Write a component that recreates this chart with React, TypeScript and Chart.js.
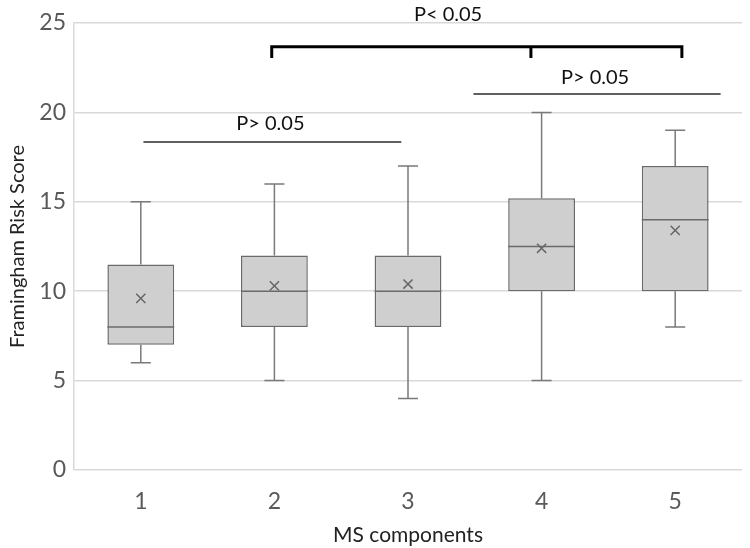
import React, { useEffect, useRef } from "react";
import { Chart, registerables } from "chart.js";

Chart.register(...registerables);

const categories = ["1", "2", "3", "4", "5"];
const minValues = [6, 5, 4, 5, 8];
const q1Values = [7, 8, 8, 10, 10];
const medianValues = [8, 10, 10, 12.5, 14];
const q3Values = [11.5, 12, 12, 15.2, 17];
const maxValues = [15, 16, 17, 20, 19];
const meanValues = [9.6, 10.3, 10.4, 12.4, 13.4];
const yTicks = [0, 5, 10, 15, 20, 25];

// significance annotations in data coordinates (category index, value)
const sigLines = [
  { label: "P> 0.05", x1: 0.02, x2: 1.95, y: 18.35, textX: 0.97, textY: 19.35, bracket: false, mid: null as number | null },
  { label: "P> 0.05", x1: 2.49, x2: 4.34, y: 21.03, textX: 3.4, textY: 21.95, bracket: false, mid: null as number | null },
  { label: "P< 0.05", x1: 0.98, x2: 4.05, y: 23.67, textX: 2.3, textY: 25.5, bracket: true, mid: 2.92 as number | null },
];

const FONT = "Lato, 'Open Sans', sans-serif";

const boxPlugin = {
  id: "boxExtras",
  beforeDatasetsDraw(chart: any) {
    const { ctx, scales } = chart;
    const meta = chart.getDatasetMeta(0);
    const y = scales.y;
    ctx.save();
    ctx.strokeStyle = "#7a7a7a";
    ctx.lineWidth = 1.5;
    meta.data.forEach((bar: any, i: number) => {
      const cx = bar.x;
      const cap = bar.width * 0.3;
      const yMin = y.getPixelForValue(minValues[i]);
      const yMax = y.getPixelForValue(maxValues[i]);
      const yQ1 = y.getPixelForValue(q1Values[i]);
      const yQ3 = y.getPixelForValue(q3Values[i]);
      ctx.beginPath();
      ctx.moveTo(cx, yMax);
      ctx.lineTo(cx, yQ3);
      ctx.moveTo(cx, yQ1);
      ctx.lineTo(cx, yMin);
      ctx.moveTo(cx - cap / 2, yMax);
      ctx.lineTo(cx + cap / 2, yMax);
      ctx.moveTo(cx - cap / 2, yMin);
      ctx.lineTo(cx + cap / 2, yMin);
      ctx.stroke();
    });
    ctx.restore();
  },
  afterDatasetsDraw(chart: any) {
    const { ctx, scales } = chart;
    const meta = chart.getDatasetMeta(0);
    const y = scales.y;
    ctx.save();
    ctx.strokeStyle = "#6a6a6a";
    ctx.lineWidth = 1.5;
    meta.data.forEach((bar: any, i: number) => {
      const ym = y.getPixelForValue(medianValues[i]);
      ctx.beginPath();
      ctx.moveTo(bar.x - bar.width / 2, ym);
      ctx.lineTo(bar.x + bar.width / 2, ym);
      ctx.stroke();
    });
    ctx.restore();
  },
  afterDraw(chart: any) {
    const { ctx, scales } = chart;
    const xs = scales.x;
    const ys = scales.y;
    const px = (v: number) => xs.getPixelForValue(0) + v * (xs.getPixelForValue(1) - xs.getPixelForValue(0));
    ctx.save();
    sigLines.forEach((s) => {
      const x1 = px(s.x1);
      const x2 = px(s.x2);
      const yy = ys.getPixelForValue(s.y);
      if (s.bracket) {
        ctx.strokeStyle = "#000";
        ctx.lineWidth = 3;
        const drop = ys.getPixelForValue(s.y - 0.63) - yy;
        ctx.beginPath();
        ctx.moveTo(x1, yy + drop);
        ctx.lineTo(x1, yy);
        ctx.lineTo(x2, yy);
        ctx.lineTo(x2, yy + drop);
        if (s.mid !== null) {
          const xm = px(s.mid);
          ctx.moveTo(xm, yy);
          ctx.lineTo(xm, yy + drop);
        }
        ctx.stroke();
      } else {
        ctx.strokeStyle = "#2a2a2a";
        ctx.lineWidth = 1.5;
        ctx.beginPath();
        ctx.moveTo(x1, yy);
        ctx.lineTo(x2, yy);
        ctx.stroke();
      }
      ctx.fillStyle = "#111";
      ctx.font = `20px ${FONT}`;
      ctx.textAlign = "center";
      ctx.textBaseline = "middle";
      ctx.fillText(s.label, px(s.textX), ys.getPixelForValue(s.textY));
    });
    ctx.restore();
  },
};

export default function App() {
  const ref = useRef<HTMLCanvasElement | null>(null);
  useEffect(() => {
    document.body.style.margin = "0";
    if (!ref.current) return;
    const chart = new Chart(ref.current, {
      type: "bar",
      data: {
        labels: categories,
        datasets: [
          {
            type: "bar",
            order: 2,
            data: q1Values.map((q, i) => [q, q3Values[i]]) as any,
            backgroundColor: "#d0cfcf",
            borderColor: "#6a6a6a",
            borderWidth: 1.5,
            borderSkipped: false,
            categoryPercentage: 1,
            barPercentage: 0.5,
          },
          {
            type: "line",
            order: 1,
            data: meanValues,
            showLine: false,
            pointStyle: "crossRot",
            pointRadius: 6.5,
            pointBorderColor: "#666",
            pointBorderWidth: 1.5,
            pointBackgroundColor: "#666",
          } as any,
        ],
      },
      options: {
        animation: false,
        responsive: false,
        layout: { padding: { top: 23, right: 1, left: 0, bottom: 0 } },
        plugins: { legend: { display: false }, tooltip: { enabled: false } },
        scales: {
          x: {
            grid: { display: false },
            border: { display: false },
            ticks: { color: "#595959", font: { family: FONT, size: 23 }, padding: 10 },
            title: {
              display: true,
              text: "MS components",
              color: "#222",
              font: { family: FONT, size: 21 },
              padding: { top: 4, bottom: 0 },
            },
            afterFit: (s: any) => {
              s.height = 78;
            },
          },
          y: {
            min: 0,
            max: 25,
            afterBuildTicks: (s: any) => {
              s.ticks = yTicks.map((v) => ({ value: v }));
            },
            grid: { color: "#d9d9d9", lineWidth: 1.5, drawTicks: false },
            border: { display: true, color: "#d9d9d9", width: 1.5 },
            ticks: { color: "#595959", font: { family: FONT, size: 23 }, padding: 8 },
            title: {
              display: true,
              text: "Framingham Risk Score",
              color: "#222",
              font: { family: FONT, size: 20 },
              padding: { top: 6, bottom: 4 },
            },
            afterFit: (s: any) => {
              s.width = 74;
            },
          },
        },
      },
      plugins: [boxPlugin],
    });
    return () => chart.destroy();
  }, []);
  return <canvas ref={ref} width={750} height={548} style={{ display: "block" }} />;
}
